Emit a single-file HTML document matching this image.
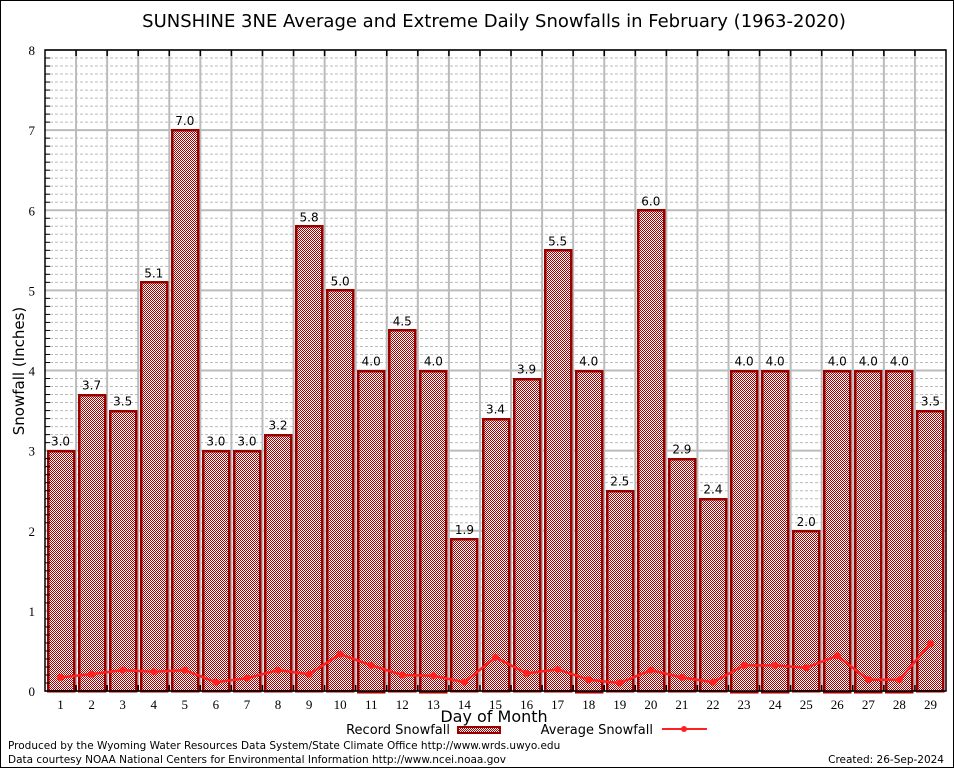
<!DOCTYPE html>
<html><head><meta charset="utf-8"><style>
html,body{margin:0;padding:0;background:#fff}
svg{display:block}
.s{font-family:"DejaVu Sans","Liberation Sans",sans-serif}
.serif{font-family:"Liberation Serif",serif}
</style></head><body>
<svg id="chart" width="954" height="768" viewBox="0 0 954 768" xmlns="http://www.w3.org/2000/svg">
<defs>
<pattern id="chk" width="2" height="2" patternUnits="userSpaceOnUse">
<rect width="2" height="2" fill="#fff"/><rect width="1" height="1" fill="#a80000"/><rect x="1" y="1" width="1" height="1" fill="#a80000"/>
</pattern>
</defs>
<rect x="0.5" y="0.5" width="953" height="767" fill="#fff" stroke="#000"/>
<text class="s" x="494" y="27" font-size="18" text-anchor="middle">SUNSHINE 3NE Average and Extreme Daily Snowfalls in February (1963-2020)</text>
<g id="grid"></g>
<g id="bars" shape-rendering="crispEdges"></g>
<g id="avg"></g>
<g id="axes"></g>
<text class="s" x="24" y="371" font-size="15" text-anchor="middle" transform="rotate(-90 24 371)">Snowfall (Inches)</text>
<text class="s" x="494" y="722" font-size="16" text-anchor="middle">Day of Month</text>
<g>
<text class="s" x="450" y="734" font-size="13" text-anchor="end">Record Snowfall</text>
<rect x="458" y="727" width="42" height="6" fill="url(#chk)" stroke="#990000" stroke-width="2"/>
<text class="s" x="653" y="734" font-size="13" text-anchor="end">Average Snowfall</text>
<line x1="662" y1="729" x2="707" y2="729" stroke="#ff2020" stroke-width="2"/>
<circle cx="684" cy="729" r="3" fill="#ff2020"/>
</g>
<text class="s" x="8" y="749" font-size="10.5">Produced by the Wyoming Water Resources Data System/State Climate Office http://www.wrds.uwyo.edu</text>
<text class="s" x="8" y="763" font-size="10.5">Data courtesy NOAA National Centers for Environmental Information http://www.ncei.noaa.gov</text>
<text class="s" x="944" y="763" font-size="10.5" text-anchor="end">Created: 26-Sep-2024</text>
</svg>
<script>
const days = [1,2,3,4,5,6,7,8,9,10,11,12,13,14,15,16,17,18,19,20,21,22,23,24,25,26,27,28,29];
const recordSnow = [3.0,3.7,3.5,5.1,7.0,3.0,3.0,3.2,5.8,5.0,4.0,4.5,4.0,1.9,3.4,3.9,5.5,4.0,2.5,6.0,2.9,2.4,4.0,4.0,2.0,4.0,4.0,4.0,3.5];
const avgSnow = [0.17,0.21,0.26,0.24,0.26,0.11,0.16,0.26,0.21,0.46,0.32,0.20,0.19,0.11,0.42,0.22,0.27,0.14,0.10,0.26,0.17,0.11,0.32,0.32,0.29,0.44,0.14,0.14,0.59];
const yTicks = [0,1,2,3,4,5,6,7,8];

const NS='http://www.w3.org/2000/svg';
const L=45,R=946,T=50,B=691,YMAX=8;
const slot=(R-L)/days.length;
const xS=i=>L+slot*(i+0.5);
const yS=v=>B-(v/YMAX)*(B-T);
function mk(tag,attrs,parent){const e=document.createElementNS(NS,tag);for(const k in attrs)e.setAttribute(k,attrs[k]);parent.appendChild(e);return e;}
const grid=document.getElementById('grid'),bars=document.getElementById('bars'),avg=document.getElementById('avg'),axes=document.getElementById('axes');

for(let v=0;v<YMAX;v+=1){for(let m=1;m<10;m++){const y=yS(v+m/10);
 const l=mk('line',{x1:L,x2:R,y1:y,y2:y,stroke:'#bbb','stroke-width':1,'stroke-dasharray':'3,2'},grid);
 
 
 const t=mk('line',{x1:L,x2:L+5,y1:y,y2:y,stroke:'#000','stroke-width':1},axes);
 
 }}
yTicks.forEach(v=>{const y=yS(v);
 const l=mk('line',{x1:L,x2:R,y1:y,y2:y,stroke:'#bbb','stroke-width':2},grid);
 
 
 const t=mk('text',{x:L-10,y:y+5,'font-size':13,'text-anchor':'end','class':'serif'},axes);
 t.textContent=v;
 
 });
for(let i=1;i<days.length;i++){const x=L+slot*i;
 const l=mk('line',{x1:x,x2:x,y1:T,y2:B,stroke:'#bbb','stroke-width':2},grid);
 
 
 const t=mk('line',{x1:x,x2:x,y1:T,y2:T+6,stroke:'#000','stroke-width':1.5},axes);
 
 
 const b=mk('line',{x1:x,x2:x,y1:B-6,y2:B,stroke:'#000','stroke-width':1.5},axes);
 
 }

days.forEach((d,i)=>{const cx=xS(i),v=recordSnow[i],y=yS(v);
 const r=mk('rect',{x:Math.round(cx-13),y:Math.round(y),width:26,height:Math.round(B-y),fill:'url(#chk)',stroke:'#990000','stroke-width':2.5},bars);
 
 
 const t=mk('text',{x:cx,y:y-5,'font-size':12,'text-anchor':'middle','class':'s'},axes);
 t.textContent=v.toFixed(1);
 
 
 const xl=mk('text',{x:cx,y:B+18,'font-size':13,'text-anchor':'middle','class':'serif'},axes);
 xl.textContent=d;
 
 });

const pts=avgSnow.map((v,i)=>xS(i)+','+yS(v)).join(' ');
const pl=mk('polyline',{points:pts,fill:'none',stroke:'#ff2020','stroke-width':2.5},avg);


avgSnow.forEach((v,i)=>{const c=mk('circle',{cx:xS(i),cy:yS(v),r:3.5,fill:'#ff2020'},avg);
 
 });

const fr=mk('rect',{x:L,y:T,width:R-L,height:B-T,fill:'none',stroke:'#000','stroke-width':1.5},axes);


</script>
</body></html>
